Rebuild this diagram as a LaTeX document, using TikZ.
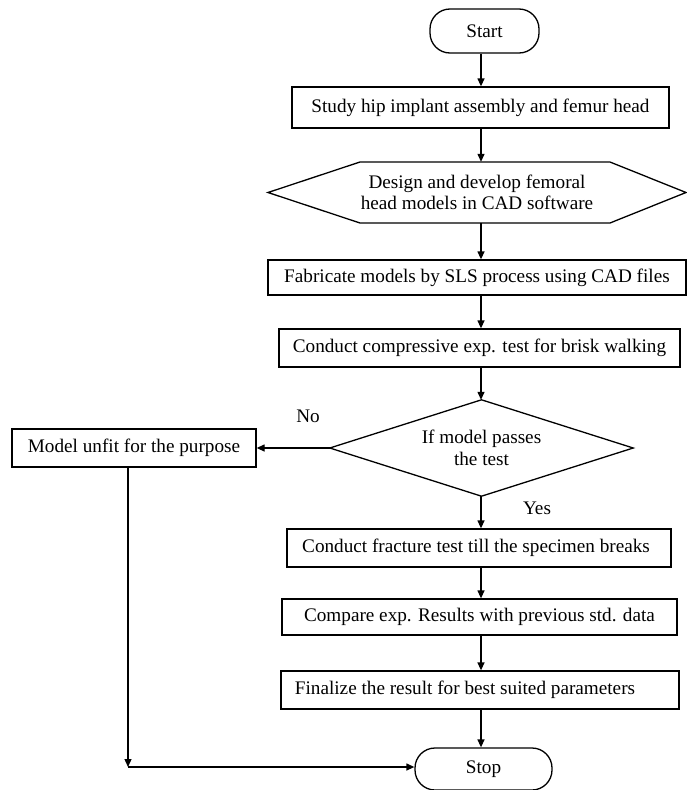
\documentclass[tikz,border=0pt]{standalone}
\usepackage{fontspec}
\setmainfont{Liberation Serif}
\usetikzlibrary{arrows.meta,calc}
\begin{document}
\begin{tikzpicture}[x=1pt,y=-1pt,
  every node/.style={font=\fontsize{19.2}{21.5}\selectfont, inner sep=0pt, align=center},
  box/.style={draw, line width=1.3pt, rectangle},
  term/.style={draw, line width=1.3pt, rectangle, rounded corners=20pt},
  shapeline/.style={line width=1.3pt, line join=miter},
  ln/.style={line width=1.3pt},
  arr/.style={line width=1.3pt, -{Triangle[length=8pt,width=7pt]}}
]
\useasboundingbox (0,0) rectangle (687,790);
\fill[white] (0,0) rectangle (687,790);
\coordinate (ax) at (481,0);

\node[term, minimum width=109pt, minimum height=44pt] (start) at (484.5,31) {Start};
\node[box, minimum width=377pt, minimum height=41pt] (study) at (480.5,107.5) {Study hip implant assembly and femur head};
\node[minimum width=418pt, minimum height=61pt] (design) at (477,192.5) {Design and develop femoral\\head models in CAD software};
\draw[shapeline] (268,192.5) -- (360,162) -- (610,162) -- (686,192.5) -- (610,223) -- (360,223) -- cycle;
\node[box, minimum width=418pt, minimum height=35pt] (fab) at (477,277.5) {Fabricate models by SLS process using CAD files};
\node[box, minimum width=401pt, minimum height=38pt] (comp) at (479.5,348) {Conduct compressive exp. test for brisk walking};
\node[minimum width=303pt, minimum height=96pt] (dec) at (481.5,448) {If model passes\\the test};
\draw[shapeline] (dec.north) -- (dec.east) -- (dec.south) -- (dec.west) -- cycle;
\node[box, minimum width=244pt, minimum height=38pt] (unfit) at (134,448) {Model unfit for the purpose};
\node[box, minimum width=384pt, minimum height=38pt] (fract) at (479,548) {Conduct fracture test till the specimen breaks\hspace*{6pt}};
\node[box, minimum width=395pt, minimum height=36pt] (compare) at (479.5,617) {Compare exp. Results with previous std. data};
\node[box, minimum width=398pt, minimum height=38pt] (final) at (480,690) {Finalize the result for best suited parameters\hspace*{30pt}};
\node[term, minimum width=137pt, minimum height=42pt] (stop) at (483.5,769) {Stop};

\node (no) at (308,416) {No};
\node (yes) at (537,508) {Yes};
\coordinate (corner) at (128,767);

\draw[arr] (start.south -| ax) -- (study.north -| ax);
\draw[arr] (study.south -| ax) -- (design.north -| ax);
\draw[arr] (design.south -| ax) -- (fab.north -| ax);
\draw[arr] (fab.south -| ax) -- (comp.north -| ax);
\draw[arr] (comp.south -| ax) -- (dec.north -| ax);
\draw[arr] (dec.west) -- (unfit.east |- dec.west);
\draw[arr] (dec.south -| ax) -- (fract.north -| ax);
\draw[arr] (fract.south -| ax) -- (compare.north -| ax);
\draw[arr] (compare.south -| ax) -- (final.north -| ax);
\draw[arr] (final.south -| ax) -- (stop.north -| ax);
\draw[arr] (unfit.south -| corner) -- (corner);
\draw[arr] (corner) -- (stop.west |- corner);
\end{tikzpicture}
\end{document}
